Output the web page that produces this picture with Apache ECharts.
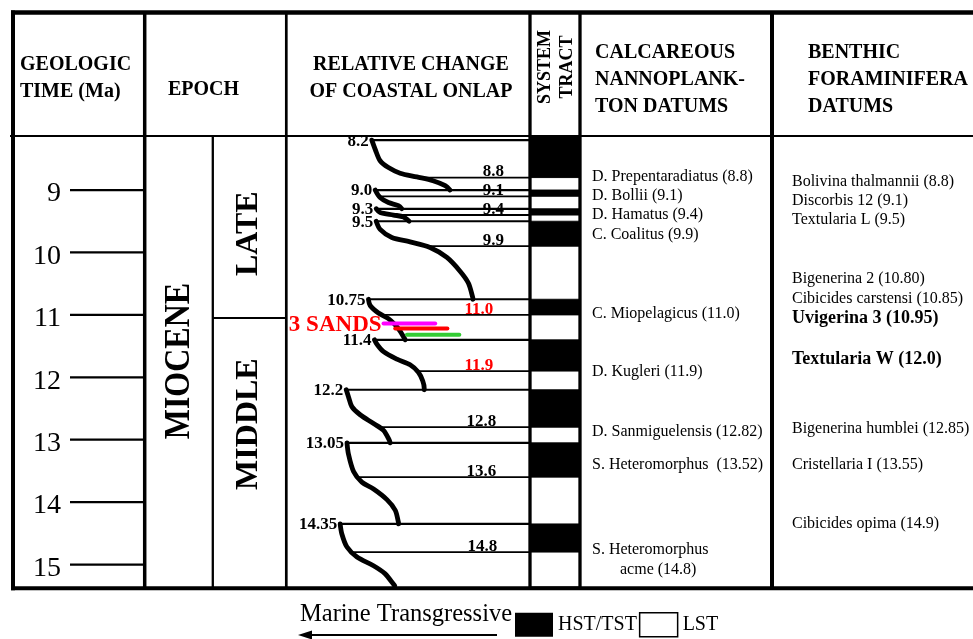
<!DOCTYPE html>
<html>
<head>
<meta charset="utf-8">
<title>Miocene sequence stratigraphy</title>
<script src="https://cdn.jsdelivr.net/npm/echarts@6.0.0/dist/echarts.min.js"></script>
<style>
html,body{margin:0;padding:0;background:#ffffff;}
#chart{width:973px;height:639px;}
</style>
</head>
<body>
<div id="chart"></div>
<script>
// ======================= DATA =======================
const timeTicks = [9, 10, 11, 12, 13, 14, 15];
const epochName = 'MIOCENE';
const subEpochNames = ['LATE', 'MIDDLE'];
const subEpochBoundary = 11.05;

const sequenceBoundaries = [8.2, 9.0, 9.3, 9.5, 10.75, 11.4, 12.2, 13.05, 14.35];
const maxFloodingSurfaces = [8.8, 9.1, 9.4, 9.9, 11.0, 11.9, 12.8, 13.6, 14.8];

// coastal onlap curve, one segment per sequence: [relative onlap (0-100), age Ma]
const onlapSeg1 = [[35.1, 8.2], [36.5, 8.35], [38.5, 8.53], [41.9, 8.64], [46.7, 8.73], [53.6, 8.79], [60.2, 8.85], [65.2, 8.93], [67.2, 9.0]];
const onlapSeg2 = [[36.5, 9.0], [38.5, 9.12], [41.9, 9.2], [46.0, 9.25], [47.4, 9.3]];
const onlapSeg3 = [[36.9, 9.3], [38.5, 9.36], [44.0, 9.4], [48.1, 9.43], [50.1, 9.49], [50.4, 9.5]];
const onlapSeg4 = [[36.9, 9.5], [38.5, 9.63], [43.3, 9.76], [50.8, 9.83], [59.0, 9.92], [65.9, 10.08], [71.3, 10.3], [74.7, 10.49], [76.5, 10.72], [76.6, 10.75]];
const onlapSeg5 = [[33.7, 10.75], [34.4, 10.85], [37.8, 10.97], [41.9, 11.06], [44.7, 11.16], [46.7, 11.26], [48.1, 11.35], [48.8, 11.4]];
const onlapSeg6 = [[36.2, 11.4], [37.2, 11.47], [39.9, 11.59], [45.4, 11.71], [50.8, 11.8], [54.2, 11.92], [56.0, 12.06], [56.6, 12.18], [56.6, 12.2]];
const onlapSeg7 = [[24.6, 12.2], [25.5, 12.31], [26.9, 12.47], [30.3, 12.6], [35.8, 12.74], [39.9, 12.85], [42.3, 13.01], [42.6, 13.05]];
const onlapSeg8 = [[24.9, 13.05], [25.5, 13.23], [27.6, 13.51], [31.0, 13.68], [35.8, 13.79], [41.3, 13.96], [44.7, 14.13], [46.0, 14.32], [46.1, 14.35]];
const onlapSeg9 = [[22.1, 14.35], [22.8, 14.51], [24.9, 14.72], [29.0, 14.88], [35.8, 15.02], [40.6, 15.15], [43.3, 15.28], [44.5, 15.34]];
const onlapCurve = [onlapSeg1, onlapSeg2, onlapSeg3, onlapSeg4, onlapSeg5, onlapSeg6, onlapSeg7, onlapSeg8, onlapSeg9];

const sandNames = ['Sand 1', 'Sand 2', 'Sand 3'];
const sandOnlapFrom = [39.9, 44.7, 49.5];
const sandOnlapTo = [61.1, 66.1, 71.0];
const sandAges = [11.14, 11.22, 11.32];
const sandsTitle = '3 SANDS';

const nannoNames = ['D. Prepentaradiatus', 'D. Bollii', 'D. Hamatus', 'C. Coalitus', 'C. Miopelagicus', 'D. Kugleri', 'D. Sanmiguelensis', 'S. Heteromorphus ', 'S. Heteromorphus\n       acme'];
const nannoAges = ['8.8', '9.1', '9.4', '9.9', '11.0', '11.9', '12.82', '13.52', '14.8'];
const benthicNames = ['Bolivina thalmannii', 'Discorbis 12', 'Textularia L', 'Bigenerina 2', 'Cibicides carstensi', 'Uvigerina 3', 'Textularia W', 'Bigenerina humblei', 'Cristellaria I', 'Cibicides opima'];
const benthicAges = ['8.8', '9.1', '9.5', '10.80', '10.85', '10.95', '12.0', '12.85', '13.55', '14.9'];

const tractNames = ['HST/TST', 'LST'];

// ======================= LAYOUT / STYLE =======================
const W = 973;
const BODY_TOP = 137, BODY_BOTTOM = 587;
const T_MIN = 8.15, T_MAX = 15.36;
const X = { outer: 13, time: 144.7, sub: 212.8, onlap: 286.3, tract: 530, nanno: 580, benthic: 772 };
const FONT = '"Liberation Serif","Times New Roman","DejaVu Serif",serif';
const tickX0 = 70, tickX1 = 144;
const epochLabelPos = { MIOCENE: [179, 11.74], LATE: [249, 9.70], MIDDLE: [249, 12.75] };
const mfsLabelOnlap = [85, 85, 85, 85, 79, 79, 80, 80, 80.5];
const mfsRed = [4, 5];
const nannoLabelAge = [8.79, 9.10, 9.40, 9.71, 10.98, 11.91, 12.87, 13.41, 14.93];
const benthicLabelAge = [8.87, 9.18, 9.48, 10.42, 10.74, 11.06, 11.72, 12.82, 13.41, 14.34];
const benthicBold = [5, 6];
const sandColors = ['#ff00ff', '#ff0000', '#33cc33'];

function fmtAge(t) { return (t % 1 === 0) ? t.toFixed(1) : String(t); }
function txt(x, y, text, font, align, valign, fill, extra) {
  return Object.assign({
    type: 'text', x: x, y: y,
    style: { text: text, font: font, fill: fill || '#000', align: align, verticalAlign: valign, textAlign: align, textVerticalAlign: valign, lineHeight: (extra && extra.lh) || undefined }
  }, extra && extra.el ? extra.el : {});
}
function curveOnlapAt(t) {
  for (const seg of onlapCurve) {
    if (t >= seg[0][1] && t <= seg[seg.length - 1][1]) {
      for (let i = 1; i < seg.length; i++) {
        const a = seg[i - 1], b = seg[i];
        if (t <= b[1]) return a[0] + (b[0] - a[0]) * (t - a[1]) / ((b[1] - a[1]) || 1);
      }
    }
  }
  return 0;
}

const series = [];

// time ticks
series.push({
  type: 'custom', name: 'ticks', xAxisIndex: 0, yAxisIndex: 0, silent: true, z: 5,
  data: timeTicks.map(t => [0, t]),
  renderItem: (p, api) => {
    const y = api.coord([0, api.value(1)])[1];
    return { type: 'group', children: [
      { type: 'line', shape: { x1: tickX0, y1: y, x2: tickX1, y2: y }, style: { stroke: '#000', lineWidth: 2.2 } },
      txt(61, y + 4, String(timeTicks[p.dataIndex]), '28px ' + FONT, 'right', 'middle')
    ] };
  }
});

// epoch labels
const epochLabels = [epochName].concat(subEpochNames);
series.push({
  type: 'custom', name: 'epochs', xAxisIndex: 0, yAxisIndex: 0, silent: true, z: 5,
  data: epochLabels.map(n => [epochLabelPos[n][0], epochLabelPos[n][1]]),
  renderItem: (p, api) => {
    const c = api.coord([api.value(0), api.value(1)]);
    const name = epochLabels[p.dataIndex];
    return txt(c[0], c[1], name, 'bold 32px ' + FONT, 'center', 'middle', '#000',
      { el: { rotation: Math.PI / 2, scaleY: name === 'MIOCENE' ? 1.15 : 1.0 } });
  }
});
// sub-epoch boundary
series.push({
  type: 'custom', name: 'subEpochBoundary', xAxisIndex: 0, yAxisIndex: 0, silent: true, z: 5,
  data: [[0, subEpochBoundary]],
  renderItem: (p, api) => {
    const y = api.coord([0, api.value(1)])[1];
    return { type: 'line', shape: { x1: X.sub, y1: y, x2: X.onlap, y2: y }, style: { stroke: '#000', lineWidth: 2 } };
  }
});

// system tracts
series.push({
  type: 'custom', name: tractNames[0], xAxisIndex: 0, yAxisIndex: 0, silent: true, z: 3,
  itemStyle: { color: '#000' },
  data: sequenceBoundaries.map((s, i) => [0, s, maxFloodingSurfaces[i]]),
  renderItem: (p, api) => {
    const y1 = api.coord([0, p.dataIndex === 0 ? T_MIN : api.value(1)])[1];
    const y2 = api.coord([0, api.value(2)])[1];
    return { type: 'rect', shape: { x: X.tract, y: y1, width: X.nanno - X.tract, height: y2 - y1 }, style: { fill: '#000' } };
  }
});
series.push({
  type: 'custom', name: tractNames[1], xAxisIndex: 0, yAxisIndex: 0, silent: true, z: 3,
  itemStyle: { color: '#fff', borderColor: '#000', borderWidth: 1.5 },
  data: maxFloodingSurfaces.map((m, i) => [0, m, i + 1 < sequenceBoundaries.length ? sequenceBoundaries[i + 1] : T_MAX]),
  renderItem: (p, api) => {
    const y1 = api.coord([0, api.value(1)])[1];
    const y2 = api.coord([0, api.value(2)])[1];
    return { type: 'rect', shape: { x: X.tract, y: y1, width: X.nanno - X.tract, height: y2 - y1 }, style: { fill: '#fff', stroke: '#000', lineWidth: 1 } };
  }
});

// sequence boundary lines
series.push({
  type: 'custom', name: 'SB', xAxisIndex: 1, yAxisIndex: 1, silent: true, z: 4,
  data: sequenceBoundaries.map((t, i) => [onlapCurve[i][0][0], t]),
  renderItem: (p, api) => {
    const a = api.coord([api.value(0), api.value(1)]);
    const b = api.coord([100, api.value(1)]);
    return { type: 'group', children: [
      { type: 'line', shape: { x1: a[0], y1: a[1], x2: b[0], y2: b[1] }, style: { stroke: '#000', lineWidth: 2.2 } },
      txt(a[0] - 3, a[1] + 1, fmtAge(sequenceBoundaries[p.dataIndex]), 'bold 17px ' + FONT, 'right', 'middle')
    ] };
  }
});

// maximum flooding surface lines
series.push({
  type: 'custom', name: 'MFS', xAxisIndex: 1, yAxisIndex: 1, silent: true, z: 4,
  data: maxFloodingSurfaces.map(t => [curveOnlapAt(t), t]),
  renderItem: (p, api) => {
    const a = api.coord([api.value(0), api.value(1)]);
    const b = api.coord([100, api.value(1)]);
    const l = api.coord([mfsLabelOnlap[p.dataIndex], api.value(1)]);
    const red = mfsRed.indexOf(p.dataIndex) >= 0;
    return { type: 'group', children: [
      { type: 'line', shape: { x1: a[0], y1: a[1], x2: b[0], y2: b[1] }, style: { stroke: '#000', lineWidth: 1.8 } },
      txt(l[0], l[1] + 3, fmtAge(maxFloodingSurfaces[p.dataIndex]), 'bold 17px ' + FONT, 'center', 'bottom', red ? '#ff0000' : '#000')
    ] };
  }
});

// onlap curve
onlapCurve.forEach((seg, i) => {
  series.push({
    type: 'line', name: 'onlap' + (i + 1), xAxisIndex: 1, yAxisIndex: 1, silent: true, z: 6,
    data: seg, smooth: 0.3, symbol: 'none', clip: false,
    lineStyle: { color: '#000', width: 4.8, cap: 'round', join: 'round' }
  });
});

// sands
series.push({
  type: 'custom', name: 'sands', xAxisIndex: 1, yAxisIndex: 1, silent: true, z: 8,
  data: sandAges.map((t, i) => [sandOnlapFrom[i], t, sandOnlapTo[i]]),
  renderItem: (p, api) => {
    const a = api.coord([api.value(0), api.value(1)]);
    const b = api.coord([api.value(2), api.value(1)]);
    const children = [{ type: 'line', shape: { x1: a[0], y1: a[1], x2: b[0], y2: b[1] }, style: { stroke: sandColors[p.dataIndex], lineWidth: 4, lineCap: 'round' } }];
    if (p.dataIndex === 0) children.push(txt(a[0] - 2, a[1] + 1.5, sandsTitle, 'bold 23px ' + FONT, 'right', 'middle', '#ff0000'));
    return { type: 'group', children: children };
  }
});

// nannoplankton datums
series.push({
  type: 'custom', name: 'nanno', xAxisIndex: 0, yAxisIndex: 0, silent: true, z: 5,
  data: nannoNames.map((n, i) => [X.nanno + 12, nannoLabelAge[i]]),
  renderItem: (p, api) => {
    const c = api.coord([api.value(0), api.value(1)]);
    const i = p.dataIndex;
    return txt(c[0], c[1], nannoNames[i] + ' (' + nannoAges[i] + ')', '16px ' + FONT, 'left', 'middle', '#000', { lh: 20 });
  }
});

// benthic foraminifera datums
series.push({
  type: 'custom', name: 'benthic', xAxisIndex: 0, yAxisIndex: 0, silent: true, z: 5,
  data: benthicNames.map((n, i) => [X.benthic + 20, benthicLabelAge[i]]),
  renderItem: (p, api) => {
    const c = api.coord([api.value(0), api.value(1)]);
    const i = p.dataIndex;
    const bold = benthicBold.indexOf(i) >= 0;
    return txt(c[0], c[1], benthicNames[i] + ' (' + benthicAges[i] + ')', bold ? 'bold 18px ' + FONT : '16px ' + FONT, 'left', 'middle');
  }
});

// table frame + headers
const hl = (x1, x2, y, w) => ({ type: 'line', z: 50, shape: { x1: x1, y1: y, x2: x2, y2: y }, style: { stroke: '#000', lineWidth: w } });
const vl = (x, y1, y2, w) => ({ type: 'line', z: 50, shape: { x1: x, y1: y1, x2: x, y2: y2 }, style: { stroke: '#000', lineWidth: w } });
const gtxt = (x, y, text, font, align, valign, lh, extra) => Object.assign({
  type: 'text', z: 50, x: x, y: y,
  style: { text: text, font: font, fill: '#000', align: align, verticalAlign: valign, textAlign: align, textVerticalAlign: valign, lineHeight: lh }
}, extra || {});

const HB = 'bold 20px ' + FONT;
const graphicElements = [
  hl(11, W, 12.5, 4.5),
  hl(10, W, 136, 2.2),
  hl(11, W, 588.3, 4),
  vl(X.outer, 10.5, 590.3, 4),
  vl(X.time, 12, 588, 3.5),
  vl(X.sub, 136, 588, 2.3),
  vl(X.onlap, 12, 588, 2.7),
  vl(X.tract, 12, 588, 3.3),
  vl(X.nanno, 12, 588, 3.3),
  vl(X.benthic, 12, 588, 4),
  gtxt(20, 78, 'GEOLOGIC\nTIME (Ma)', HB, 'left', 'middle', 24, { scaleY: 1.1 }),
  gtxt(168, 89, 'EPOCH', HB, 'left', 'middle', 24, { scaleY: 1.1 }),
  gtxt(411, 78, 'RELATIVE CHANGE\nOF COASTAL ONLAP', HB, 'center', 'middle', 24, { scaleY: 1.1 }),
  gtxt(556, 67, 'SYSTEM\nTRACT', 'bold 18px ' + FONT, 'center', 'middle', 22, { rotation: Math.PI / 2 }),
  gtxt(595, 79, 'CALCAREOUS\nNANNOPLANK-\nTON DATUMS', HB, 'left', 'middle', 24.5, { scaleY: 1.1 }),
  gtxt(808, 79, 'BENTHIC\nFORAMINIFERA\nDATUMS', HB, 'left', 'middle', 24.5, { scaleY: 1.1 }),
  gtxt(300, 615, 'Marine Transgressive', '24.5px ' + FONT, 'left', 'middle', 24),
  { type: 'line', z: 50, shape: { x1: 306, y1: 635, x2: 497, y2: 635 }, style: { stroke: '#000', lineWidth: 2.2 } },
  { type: 'polygon', z: 50, shape: { points: [[298, 635], [312, 630.5], [312, 639.5]] }, style: { fill: '#000' } }
];

const chart = echarts.init(document.getElementById('chart'), null, { renderer: 'canvas' });
chart.setOption({
  animation: false,
  backgroundColor: '#ffffff',
  grid: [
    { left: 0, width: W, top: BODY_TOP, height: BODY_BOTTOM - BODY_TOP },
    { left: X.onlap, width: X.tract - X.onlap, top: BODY_TOP, height: BODY_BOTTOM - BODY_TOP }
  ],
  xAxis: [
    { gridIndex: 0, type: 'value', min: 0, max: W, show: false },
    { gridIndex: 1, type: 'value', min: 0, max: 100, show: false }
  ],
  yAxis: [0, 1].map(g => ({ gridIndex: g, type: 'value', min: T_MIN, max: T_MAX, inverse: true, show: false })),
  legend: {
    data: [
      { name: tractNames[0], icon: 'rect', itemStyle: { color: '#000', borderWidth: 0 } },
      { name: tractNames[1], icon: 'rect', itemStyle: { color: '#fff', borderColor: '#000', borderWidth: 1.5 } }
    ],
    left: 515, top: 612, itemWidth: 38, itemHeight: 24, itemGap: 2, padding: 0,
    selectedMode: false,
    textStyle: { fontFamily: FONT, fontSize: 20, color: '#000' }
  },
  graphic: { elements: graphicElements },
  series: series
});
</script>
</body>
</html>
